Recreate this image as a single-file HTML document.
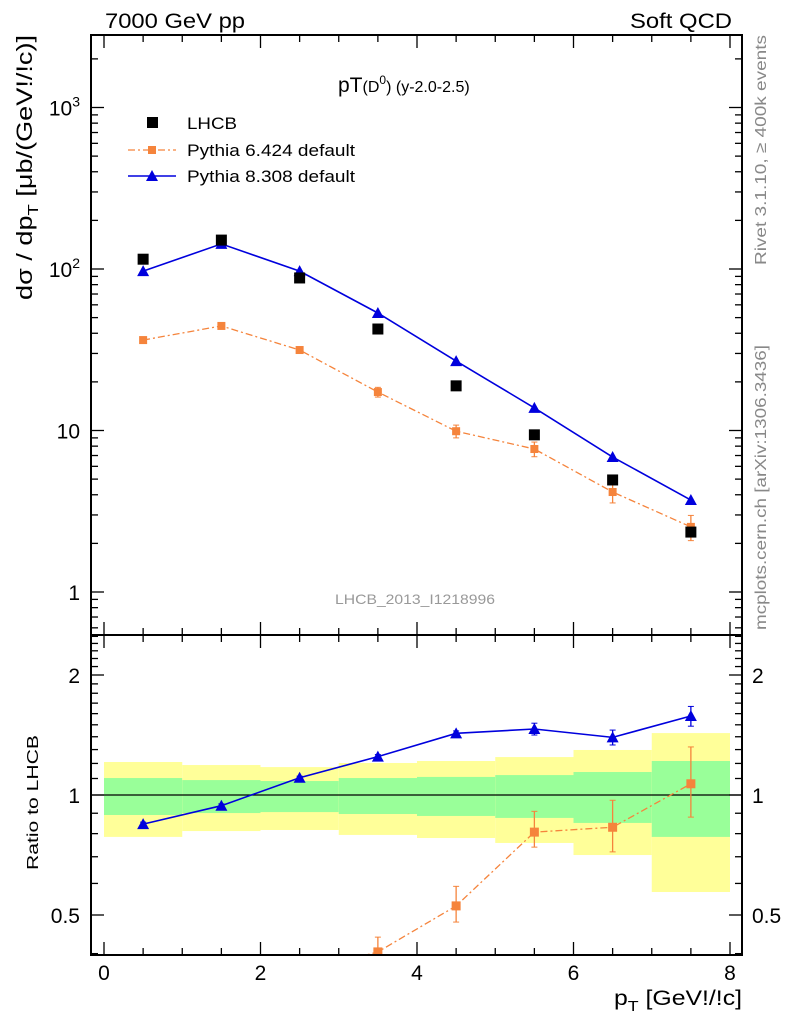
<!DOCTYPE html>
<html><head><meta charset="utf-8"><style>
body{margin:0;background:#fff}
svg{display:block;font-family:"Liberation Sans","DejaVu Sans",sans-serif}
</style></head><body>
<svg id="c" width="786" height="1024" viewBox="0 0 786 1024" xmlns="http://www.w3.org/2000/svg">
<g id="bands"></g>
<g id="grid"></g>
<g id="marks"></g>
<rect x="91" y="35" width="651" height="600" fill="none" stroke="#000" stroke-width="2"/>
<rect x="91" y="635" width="651" height="320" fill="none" stroke="#000" stroke-width="2"/>
<text x="105" y="28" font-size="21" textLength="140" lengthAdjust="spacingAndGlyphs">7000 GeV pp</text>
<text x="630" y="28" font-size="21" textLength="102" lengthAdjust="spacingAndGlyphs">Soft QCD</text>
<text x="338" y="92" font-size="21">pT<tspan font-size="16">(D</tspan><tspan font-size="12" dy="-8">0</tspan><tspan font-size="16" dy="8">) (y-2.0-2.5)</tspan></text>
<text x="415" y="604" font-size="14" fill="#999" text-anchor="middle" textLength="160" lengthAdjust="spacingAndGlyphs">LHCB_2013_I1218996</text>
<text transform="translate(766,265) rotate(-90)" font-size="16" fill="#888" textLength="230" lengthAdjust="spacingAndGlyphs">Rivet 3.1.10, ≥ 400k events</text>
<text transform="translate(766,630) rotate(-90)" font-size="16" fill="#888" textLength="285" lengthAdjust="spacingAndGlyphs">mcplots.cern.ch [arXiv:1306.3436]</text>
<text transform="translate(32,300) rotate(-90)" font-size="22" textLength="265" lengthAdjust="spacingAndGlyphs">dσ / dp<tspan font-size="15" dy="6">T</tspan><tspan dy="-6"> [μb/(GeV!/!c)]</tspan></text>
<text transform="translate(38,870) rotate(-90)" font-size="16" textLength="135" lengthAdjust="spacingAndGlyphs">Ratio to LHCB</text>
<text x="614" y="1005" font-size="21" textLength="128" lengthAdjust="spacingAndGlyphs">p<tspan font-size="15" dy="6">T</tspan><tspan dy="-6"> [GeV!/!c]</tspan></text>
<g>
<rect x="147" y="117" width="11" height="11" fill="#000"/>
<text x="187" y="129" font-size="17" textLength="50" lengthAdjust="spacingAndGlyphs">LHCB</text>
<line x1="128" y1="150" x2="176" y2="150" stroke="#f5843c" stroke-width="1.3" stroke-dasharray="7,3,2,3"/>
<rect x="148" y="146" width="8" height="8" fill="#f5843c"/>
<text x="187" y="156" font-size="17" textLength="168" lengthAdjust="spacingAndGlyphs">Pythia 6.424 default</text>
<line x1="128" y1="176" x2="176" y2="176" stroke="#0000dd" stroke-width="1.5"/>
<polygon points="152,170 158,181 146,181" fill="#0000dd"/>
<text x="187" y="182" font-size="17" textLength="168" lengthAdjust="spacingAndGlyphs">Pythia 8.308 default</text>
</g>
</svg>
<script>
const xCenters=[0.5,1.5,2.5,3.5,4.5,5.5,6.5,7.5];
const lhcb=[115,151,88,42.5,18.9,9.4,4.94,2.35];
const py8=[97,143,97,53.4,26.9,13.8,6.85,3.71];
const py6=[36.3,44.4,31.5,17.3,9.9,7.68,4.16,2.53];
const py6Err=[1.2,1.5,1.1,1.2,0.9,0.8,0.6,0.45];
const bandYelHi=[1.21,1.189,1.175,1.203,1.217,1.245,1.297,1.43];
const bandYelLo=[0.785,0.812,0.817,0.794,0.78,0.758,0.707,0.571];
const bandGrnHi=[1.103,1.09,1.084,1.103,1.11,1.122,1.142,1.217];
const bandGrnLo=[0.891,0.901,0.906,0.896,0.886,0.876,0.851,0.785];
const r8=[0.845,0.94,1.105,1.248,1.428,1.464,1.395,1.578];
const r8Err=[0.01,0.01,0.01,0.015,0.02,0.05,0.06,0.09];
const r6=[0.316,0.294,0.358,0.404,0.527,0.807,0.83,1.067];
const r6Lo=[0.31,0.28,0.34,0.37,0.48,0.74,0.72,0.88];
const r6Hi=[0.33,0.30,0.37,0.44,0.59,0.91,0.97,1.32];
const xTicks=[0,2,4,6,8];
const yTicks=[1,10,100,1000];
const yTickLabels=["1","10","10²","10³"];
const rTicks=[0.5,1,2];

const NS="http://www.w3.org/2000/svg";
const X=v=>104+v*78.25;
const Y=v=>592-161.5*Math.log10(v);
const R=v=>795-120*Math.log2(v);
function mk(p,t,a){const e=document.createElementNS(NS,t);for(const k in a)e.setAttribute(k,a[k]);document.getElementById(p).appendChild(e);return e;}
for(let i=0;i<8;i++){
 let e=mk('bands','rect',{x:X(i),y:R(bandYelHi[i]),width:X(i+1)-X(i),height:R(bandYelLo[i])-R(bandYelHi[i]),fill:'#ffff99'});
 
 
 e=mk('bands','rect',{x:X(i),y:R(bandGrnHi[i]),width:X(i+1)-X(i),height:R(bandGrnLo[i])-R(bandGrnHi[i]),fill:'#99ff99'});
 
 
}
let ln=mk('grid','line',{x1:91,x2:742,y1:R(1),y2:R(1),stroke:'#000','stroke-width':1.3});


for(let v=0;v<=8.01;v+=0.5){
 const maj=Math.abs(v-Math.round(v/2)*2)<0.01, L=maj?13:7;
 for(const [yb,d] of [[635,-1],[35,1],[955,-1],[635,1]]) mk('grid','line',{x1:X(v),x2:X(v),y1:yb,y2:yb+d*L,stroke:'#000','stroke-width':1.3});
}
xTicks.forEach(v=>{const t=mk('grid','text',{x:X(v),y:980,'font-size':21,'text-anchor':'middle'});t.textContent=v;
 
 });
for(let d=0.1;d<=1000;d*=10){for(let m=1;m<10;m++){const v=d*m,y=Y(v);if(y<35||y>635)continue;const L=m==1?13:7;
 mk('grid','line',{x1:91,x2:91+L,y1:y,y2:y,stroke:'#000','stroke-width':1.3});mk('grid','line',{x1:742,x2:742-L,y1:y,y2:y,stroke:'#000','stroke-width':1.3});}}
yTicks.forEach((v,i)=>{const t=mk('grid','text',{x:80,y:Y(v)+8,'font-size':21,'text-anchor':'end'});
 if(v>=100){t.innerHTML='10<tspan font-size="14" dy="-9">'+(v==100?2:3)+'</tspan>';}else t.textContent=yTickLabels[i];
 
 });
[0.4,0.5,0.6,0.7,0.8,0.9,1,1.1,1.2,1.3,1.4,1.5,1.6,1.7,1.8,1.9,2,2.1,2.2,2.3,2.4,2.5].forEach(v=>{const y=R(v);if(y<635||y>955)return;const L=rTicks.includes(v)?13:7;
 mk('grid','line',{x1:91,x2:91+L,y1:y,y2:y,stroke:'#000','stroke-width':1.3});mk('grid','line',{x1:742,x2:742-L,y1:y,y2:y,stroke:'#000','stroke-width':1.3});});
rTicks.forEach(v=>{for(const [x,a] of [[80,'end'],[752,'start']]){const t=mk('grid','text',{x:x,y:R(v)+8,'font-size':21,'text-anchor':a});t.textContent=v;
 
 }});
const defs=mk('marks','clipPath',{id:'rc'});const cr=document.createElementNS(NS,'rect');cr.setAttribute('x',91);cr.setAttribute('y',635);cr.setAttribute('width',651);cr.setAttribute('height',320);defs.appendChild(cr);
function poly(vals,fy,col,dash,name,clip){const e=mk('marks','polyline',{points:vals.map((v,i)=>X(xCenters[i])+','+fy(v)).join(' '),fill:'none',stroke:col,'stroke-width':dash?1.3:1.6,'stroke-dasharray':dash||'none','clip-path':clip||'none'});
 
 }
function err(x,y1,y2,col,clip){mk('marks','line',{x1:x,x2:x,y1:y1,y2:y2,stroke:col,'stroke-width':1.3,'clip-path':clip||'none'});mk('marks','line',{x1:x-3,x2:x+3,y1:y1,y2:y1,stroke:col,'clip-path':clip||'none'});mk('marks','line',{x1:x-3,x2:x+3,y1:y2,y2:y2,stroke:col,'clip-path':clip||'none'});}
function sq(x,y,s,col,name,clip){const e=mk('marks','rect',{x:x-s/2,y:y-s/2,width:s,height:s,fill:col,'clip-path':clip||'none'});
 
 }
function tri(x,y,col,name){const e=mk('marks','polygon',{points:`${x},${y-6} ${x+6},${y+5} ${x-6},${y+5}`,fill:col});
 
 }
const OR='#f5843c',BL='#0000dd';
poly(py6,Y,OR,'7,3,2,3','py6-line');
poly(py8,Y,BL,null,'py8-line');
xCenters.forEach((c,i)=>{const x=X(c);
 err(x,Y(py6[i]+py6Err[i]),Y(py6[i]-py6Err[i]),OR);
 sq(x,Y(py6[i]),8,OR,'py6-point');
 tri(x,Y(py8[i]),BL,'py8-point');
 sq(x,Y(lhcb[i]),11,'#000','lhcb-point');});
poly(r6,R,OR,'7,3,2,3','py6-ratio-line','url(#rc)');
poly(r8,R,BL,null,'py8-ratio-line');
xCenters.forEach((c,i)=>{const x=X(c);
 err(x,R(r6Hi[i]),R(r6Lo[i]),OR,'url(#rc)');
 sq(x,R(r6[i]),9,OR,'py6-ratio-point','url(#rc)');
 err(x,R(r8[i]+r8Err[i]),R(r8[i]-r8Err[i]),BL);
 tri(x,R(r8[i]),BL,'py8-ratio-point');});
</script>
</body></html>
